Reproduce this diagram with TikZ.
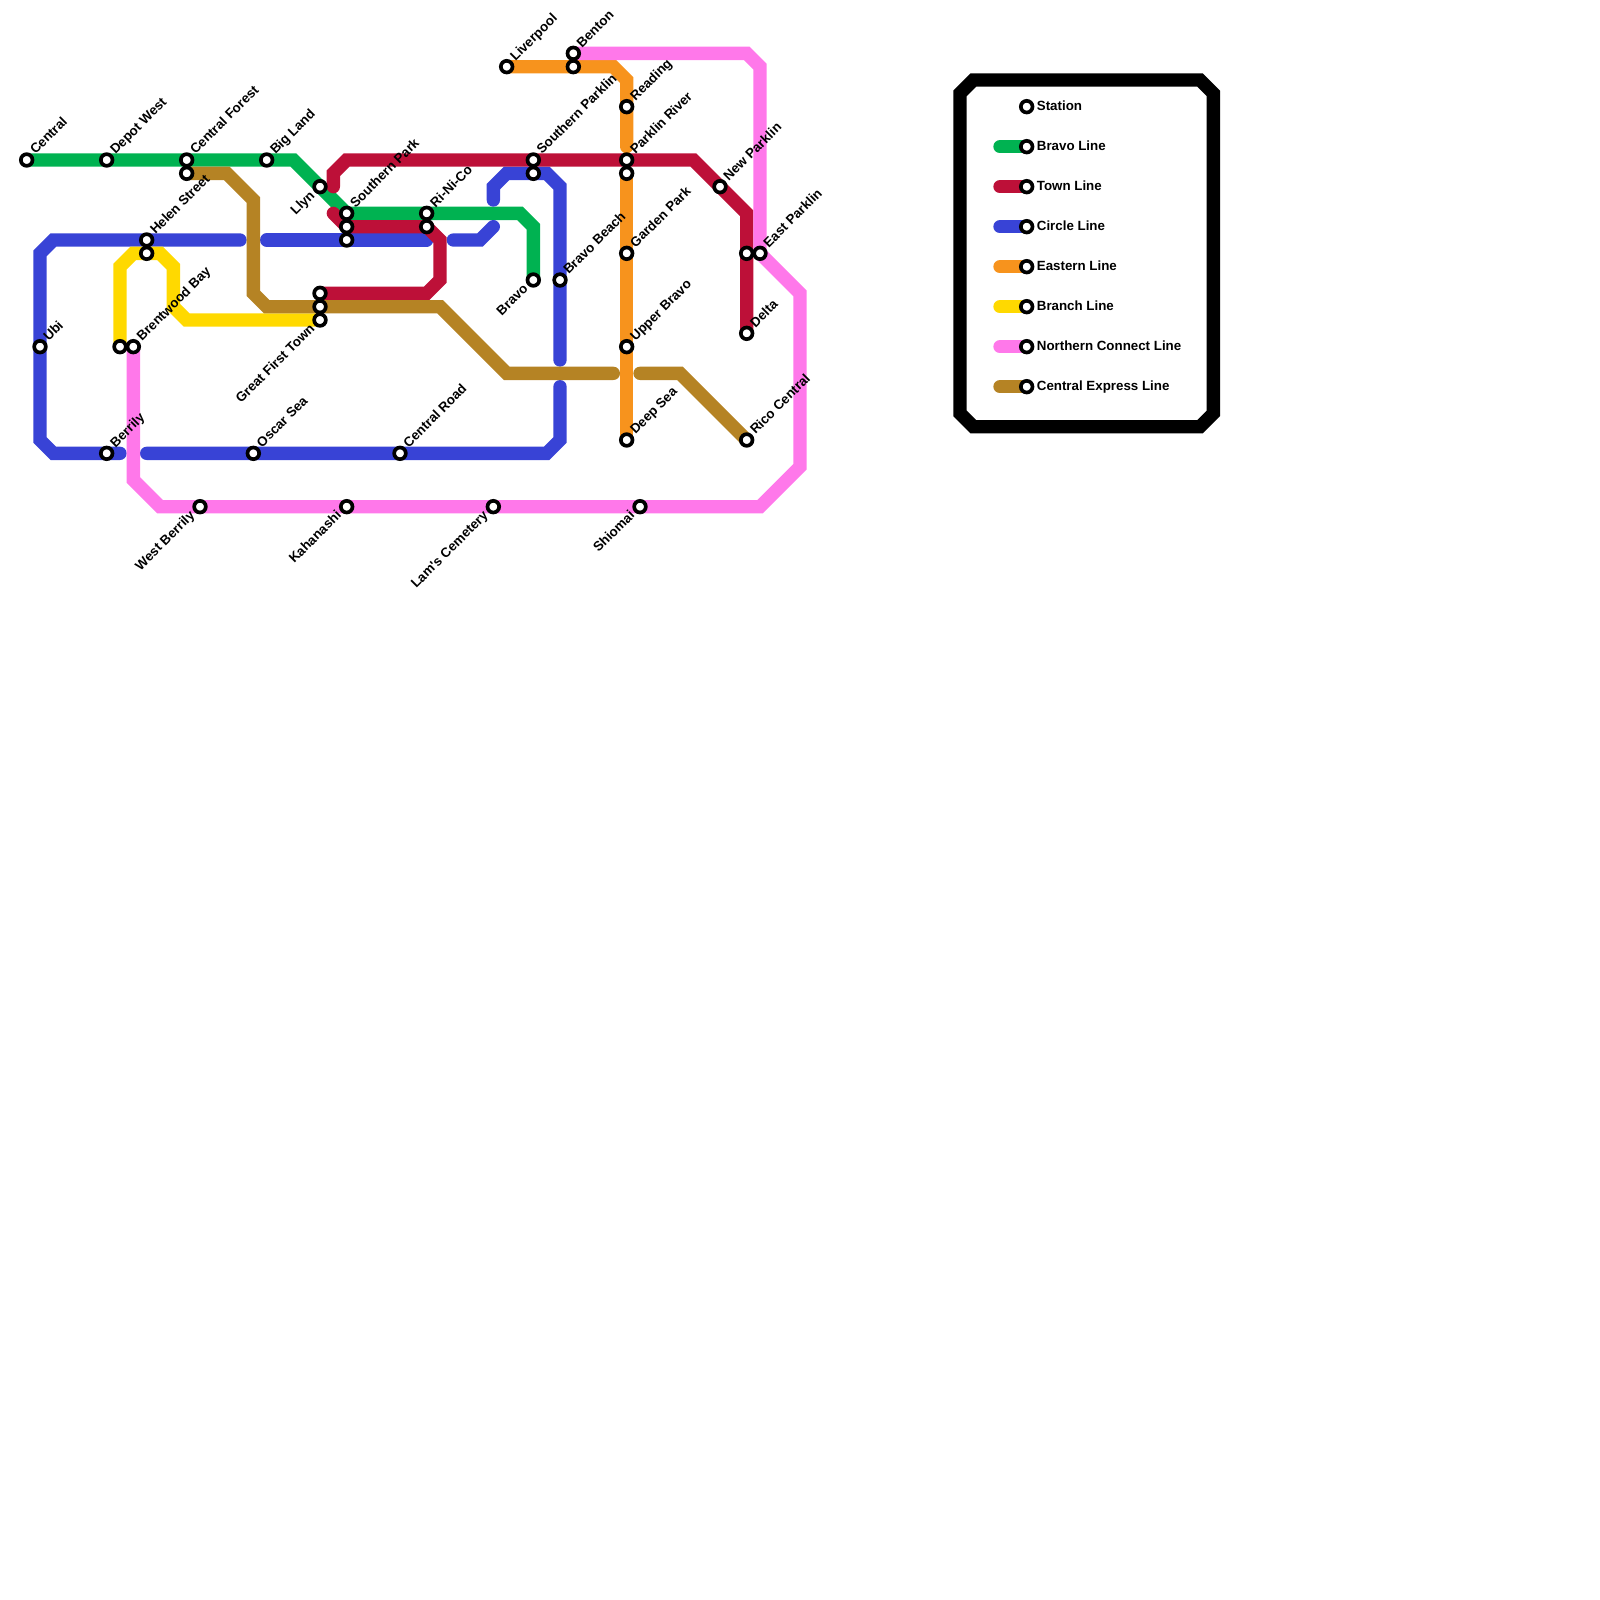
\documentclass[tikz,border=0pt]{standalone}
\usepackage{fontspec}
\setmainfont{Liberation Sans}
\definecolor{cgreen}{HTML}{00B251}
\definecolor{ccrim}{HTML}{BD1038}
\definecolor{cblue}{HTML}{3843D6}
\definecolor{corange}{HTML}{F7931D}
\definecolor{cyellow}{HTML}{FFD900}
\definecolor{cpink}{HTML}{FF78EA}
\definecolor{cbrown}{HTML}{B58324}
\pgfdeclarelayer{lines}
\pgfsetlayers{lines,main}
\tikzset{
 metro/.style={line width=13.333pt,line cap=round,line join=miter,miter limit=4},
 stn/.style={circle,draw=black,fill=white,line width=3.67pt,minimum size=11.67pt,inner sep=0pt},
 txt/.style={font=\bfseries\fontsize{13.33}{16}\selectfont,inner sep=0pt,text=black},
 ur/.style={txt,xshift=8.7pt,yshift=4.9pt,rotate=45,anchor=base west},
 dl/.style={txt,xshift=-4.5pt,yshift=-9.5pt,rotate=45,anchor=base east},
 leg/.style={txt,xshift=10pt,yshift=-4.2pt,anchor=base west},
}
\newcommand{\st}[4]{\node[stn] (#1) at (#2,#3) {}; \node[ur] (#1-l) at (#2,#3) {#4};}
\newcommand{\sd}[4]{\node[stn] (#1) at (#2,#3) {}; \node[dl] (#1-l) at (#2,#3) {#4};}
\newcommand{\sn}[3]{\node[stn] (#1) at (#2,#3) {};}
\begin{document}
\begin{tikzpicture}[x=13.3333pt,y=-13.3333pt]
\useasboundingbox (0,0) rectangle (120,120);
% stations
\st{central}{2}{12}{Central}
\st{depot}{8}{12}{Depot West}
\st{cforest}{14}{12}{Central Forest}
\sn{cforestb}{14}{13}
\st{bigland}{20}{12}{Big Land}
\sd{llyn}{24}{14}{Llyn}
\st{spark}{26}{16}{Southern Park}
\sn{sparkb}{26}{17}
\sn{sparkc}{26}{18}
\st{rini}{32}{16}{Ri-Ni-Co}
\sn{rinib}{32}{17}
\sd{bravo}{40}{21}{Bravo}
\st{sparklin}{40}{12}{Southern Parklin}
\sn{sparklinb}{40}{13}
\st{bbeach}{42}{21}{Bravo Beach}
\st{helen}{11}{18}{Helen Street}
\sn{helenb}{11}{19}
\st{ubi}{3}{26}{Ubi}
\sn{brentb}{9}{26}
\st{brent}{10}{26}{Brentwood Bay}
\st{berrily}{8}{34}{Berrily}
\st{oscar}{19}{34}{Oscar Sea}
\st{croad}{30}{34}{Central Road}
\sn{gftc}{24}{22}
\sn{gftb}{24}{23}
\sd{gft}{24}{24}{Great First Town}
\sd{wberrily}{15}{38}{West Berrily}
\sd{kahan}{26}{38}{Kahanashi}
\sd{lam}{37}{38}{Lam\textquotesingle s Cemetery}
\sd{shiomai}{48}{38}{Shiomai}
\st{liver}{38}{5}{Liverpool}
\st{benton}{43}{4}{Benton}
\sn{bentonb}{43}{5}
\st{reading}{47}{8}{Reading}
\st{parklin}{47}{12}{Parklin River}
\sn{parklinb}{47}{13}
\st{garden}{47}{19}{Garden Park}
\st{upper}{47}{26}{Upper Bravo}
\st{deep}{47}{33}{Deep Sea}
\st{newp}{54}{14}{New Parklin}
\sn{eastb}{56}{19}
\st{east}{57}{19}{East Parklin}
\st{delta}{56}{25}{Delta}
\st{rico}{56}{33}{Rico Central}
% free ends
\coordinate (tA) at (25,14);
\coordinate (tB) at (25,16);
\coordinate (bA) at (18,18);
\coordinate (bB) at (9,34);
\coordinate (bC) at (11,34);
\coordinate (bD) at (42,29);
\coordinate (bE) at (20,18);
\coordinate (bF) at (32,18);
\coordinate (bG) at (34,18);
\coordinate (bH) at (37,17);
\coordinate (bI) at (37,15);
\coordinate (bJ) at (42,27);
\coordinate (oA) at (47,11);
\coordinate (brA) at (46,28);
\coordinate (brB) at (48,28);
\begin{pgfonlayer}{lines}
\draw[metro,cgreen] (central.center) -- (22,12) -- (26,16) -- (39,16) -- (40,17) -- (bravo.center);
\draw[metro,cblue] (bA) -- (4,18) -- (3,19) -- (3,33) -- (4,34) -- (bB);
\draw[metro,cblue] (bC) -- (41,34) -- (42,33) -- (bD);
\draw[metro,cblue] (bE) -- (bF);
\draw[metro,cblue] (bG) -- (36,18) -- (bH);
\draw[metro,cblue] (bI) -- (37,14) -- (38,13) -- (41,13) -- (42,14) -- (bJ);
\draw[metro,ccrim] (tA) -- (25,13) -- (26,12) -- (52,12) -- (56,16) -- (delta.center);
\draw[metro,ccrim] (tB) -- (26,17) -- (32,17) -- (33,18) -- (33,21) -- (32,22) -- (gftc.center);
\draw[metro,corange] (liver.center) -- (46,5) -- (47,6) -- (oA);
\draw[metro,corange] (parklinb.center) -- (deep.center);
\draw[metro,cyellow] (brentb.center) -- (9,20) -- (10,19) -- (12,19) -- (13,20) -- (13,23) -- (14,24) -- (gft.center);
\draw[metro,cpink] (benton.center) -- (56,4) -- (57,5) -- (57,19) -- (60,22) -- (60,35) -- (57,38) -- (12,38) -- (10,36) -- (brent.center);
\draw[metro,cbrown] (cforestb.center) -- (17,13) -- (19,15) -- (19,22) -- (20,23) -- (33,23) -- (38,28) -- (brA);
\draw[metro,cbrown] (brB) -- (51,28) -- (rico.center);
\end{pgfonlayer}
% legend
\coordinate (box) at (72,7);
\draw[line width=13.333pt,line join=miter,black] (box) -- (73,6) -- (90,6) -- (91,7) -- (91,31) -- (90,32) -- (73,32) -- (72,31) -- cycle;
\node[stn] (l0) at (77,8) {}; \node[leg] (l0t) at (77,8) {Station};
\node[stn] (l1) at (77,11) {}; \node[leg] (l1t) at (77,11) {Bravo Line};
\node[stn] (l2) at (77,14) {}; \node[leg] (l2t) at (77,14) {Town Line};
\node[stn] (l3) at (77,17) {}; \node[leg] (l3t) at (77,17) {Circle Line};
\node[stn] (l4) at (77,20) {}; \node[leg] (l4t) at (77,20) {Eastern Line};
\node[stn] (l5) at (77,23) {}; \node[leg] (l5t) at (77,23) {Branch Line};
\node[stn] (l6) at (77,26) {}; \node[leg] (l6t) at (77,26) {Northern Connect Line};
\node[stn] (l7) at (77,29) {}; \node[leg] (l7t) at (77,29) {Central Express Line};
\coordinate (e1) at (75,11); \coordinate (e2) at (75,14); \coordinate (e3) at (75,17);
\coordinate (e4) at (75,20); \coordinate (e5) at (75,23); \coordinate (e6) at (75,26); \coordinate (e7) at (75,29);
\begin{pgfonlayer}{lines}
\draw[metro,cgreen] (e1) -- (l1.center);
\draw[metro,ccrim] (e2) -- (l2.center);
\draw[metro,cblue] (e3) -- (l3.center);
\draw[metro,corange] (e4) -- (l4.center);
\draw[metro,cyellow] (e5) -- (l5.center);
\draw[metro,cpink] (e6) -- (l6.center);
\draw[metro,cbrown] (e7) -- (l7.center);
\end{pgfonlayer}
\end{tikzpicture}
\end{document}
